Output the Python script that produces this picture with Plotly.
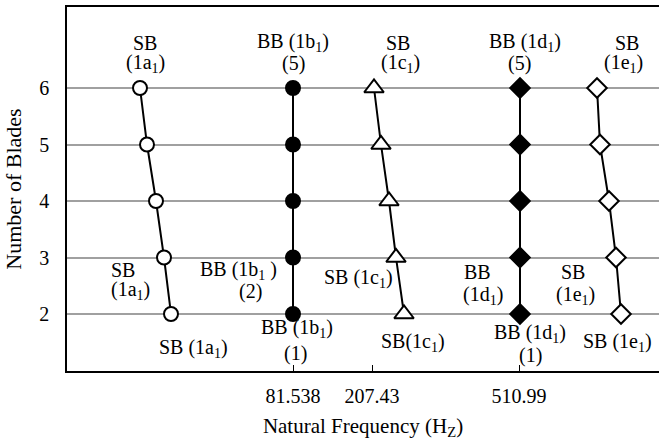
import plotly.graph_objects as go

# Data (schematic x positions along the frequency axis, blades on y)
blades = [6, 5, 4, 3, 2]
x_1a = [73, 80, 89, 97, 104]
x_1b = [226, 226, 226, 226, 226]
x_1c = [307, 314, 322, 329, 337]
x_1d = [453, 453, 453, 453, 453]
x_1e = [530, 533, 542, 549, 554]

tick_pos = [226, 305, 452]
tick_text = ["81.538", "207.43", "510.99"]

FONT = "Liberation Serif, Times New Roman, serif"

fig = go.Figure()

series = [
    (x_1a, "circle", "white", 14),
    (x_1b, "circle", "black", 14),
    (x_1c, "triangle-up", "white", 17),
    (x_1d, "diamond", "black", 15),
    (x_1e, "diamond", "white", 15),
]
for xs, sym, fill, sz in series:
    fig.add_trace(go.Scatter(
        x=xs, y=blades, mode="lines+markers",
        line=dict(color="black", width=2),
        marker=dict(symbol=sym, size=sz, color=fill,
                    line=dict(color="black", width=2)),
        showlegend=False, cliponaxis=False,
    ))

# label (text, pixel-x, pixel-y) converted to paper coords
labels = [
    ("SB", 145, 43), ("(1a<sub>1</sub>)", 145, 63),
    ("BB (1b<sub>1</sub>)", 293, 43), ("(5)", 293, 63),
    ("SB", 398, 43), ("(1c<sub>1</sub>)", 400, 63),
    ("BB (1d<sub>1</sub>)", 525, 43), ("(5)", 519, 63),
    ("SB", 627, 43), ("(1e<sub>1</sub>)", 623, 63),
    ("SB", 123, 270), ("(1a<sub>1</sub>)", 130, 290),
    ("BB (1b<sub>1</sub> )", 238, 270), ("(2)", 250, 291),
    ("SB (1c<sub>1</sub>)", 358, 278),
    ("BB", 477, 272), ("(1d<sub>1</sub>)", 483, 295),
    ("SB", 573, 272), ("(1e<sub>1</sub>)", 575, 295),
    ("SB (1a<sub>1</sub>)", 193, 348),
    ("BB (1b<sub>1</sub>)", 297, 328), ("(1)", 295, 353),
    ("SB(1c<sub>1</sub>)", 413, 342),
    ("BB (1d<sub>1</sub>)", 530, 333), ("(1)", 530, 355),
    ("SB (1e<sub>1</sub>)", 617, 342),
]
for t, px, py in labels:
    fig.add_annotation(
        x=(px - 67) / 592, y=(371 - py) / 364, xref="paper", yref="paper",
        text=t, showarrow=False, xanchor="center", yanchor="middle",
        font=dict(family=FONT, size=20, color="black"),
    )

fig.update_layout(
    width=659, height=440,
    margin=dict(l=67, r=0, t=7, b=69),
    plot_bgcolor="white", paper_bgcolor="white",
    font=dict(family=FONT, size=20, color="black"),
    xaxis=dict(
        range=[0, 592], tickvals=tick_pos, ticktext=tick_text,
        showgrid=False, zeroline=False,
        showline=True, linecolor="black", linewidth=1.5, mirror=True,
        ticks="inside", ticklen=6, tickcolor="black", tickwidth=1,
        ticklabelstandoff=6,
        tickfont=dict(family=FONT, size=20),
        title=dict(text="Natural Frequency (H<sub>Z</sub>)",
                   font=dict(family=FONT, size=21), standoff=16),
    ),
    yaxis=dict(
        range=[6 - (371 - 88) / 56.5, 6 + (88 - 7) / 56.5],
        tickvals=[2, 3, 4, 5, 6],
        showgrid=True, gridcolor="#a0a0a0", gridwidth=1.5,
        zeroline=False,
        showline=True, linecolor="black", linewidth=1.5,
        ticks="", ticklabelstandoff=12,
        tickfont=dict(family=FONT, size=20),
        title=dict(text="Number of Blades",
                   font=dict(family=FONT, size=22), standoff=12),
    ),
)

fig.write_html("out.html")
